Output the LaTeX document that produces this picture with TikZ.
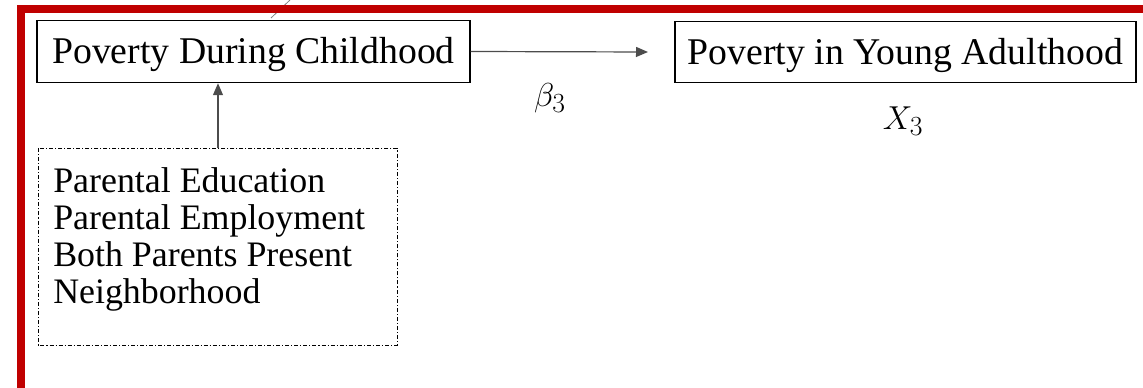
\documentclass[tikz,border=0pt]{standalone}
\usepackage{fontspec}
\setmainfont{Liberation Serif}
\usetikzlibrary{arrows.meta}
\definecolor{framered}{RGB}{192,0,0}
\begin{document}
\begin{tikzpicture}[x=0.75pt,y=-0.75pt,
  solidbox/.style={draw=black,line width=1.1pt,inner sep=0pt,font=\fontsize{28.3}{32}\selectfont},
  factorbox/.style={draw=black,line width=0.6pt,dash pattern=on 3pt off 1.5pt on 0.8pt off 1.5pt},
  conn/.style={draw=black!70,line width=0.9pt,-{Triangle[length=9pt,width=7.5pt]}},
  mathlbl/.style={font=\fontsize{30}{34}\selectfont,inner sep=0pt}]
\useasboundingbox (0,0) rectangle (1143,388);
\clip (0,0) rectangle (1143,388);
\draw[gray,line width=0.6pt] (271,18) -- (290,0);
\draw[framered,line width=6pt] (21,9.5) rectangle (1160,392);
% nodes
\node[solidbox,minimum width=433*0.75pt,minimum height=62*0.75pt,text depth=0.3ex] (child) at (253.5,51.5) {Poverty During Childhood};
\node[solidbox,minimum width=461*0.75pt,minimum height=61*0.75pt,text depth=0.3ex] (adult) at (905.5,52) {Poverty in Young Adulthood};
\draw[factorbox] (38,148) rectangle (397,345);
\coordinate (ftop) at (218,148);
\node[anchor=north west,align=left,inner sep=0pt,font=\fontsize{26.9}{27.9}\selectfont] (factors) at (53,167)
  {Parental Education\\Parental Employment\\Both Parents Present\\Neighborhood};
\node[mathlbl] (beta) at (550,98) {$\beta_3$};
\node[mathlbl] (x3) at (903,121) {$X_3$};
% connectors
\draw[conn] (child.east) -- (648,52) coordinate (atip);
\draw[conn] (ftop) -- (child.south -| ftop);
\end{tikzpicture}
\end{document}
